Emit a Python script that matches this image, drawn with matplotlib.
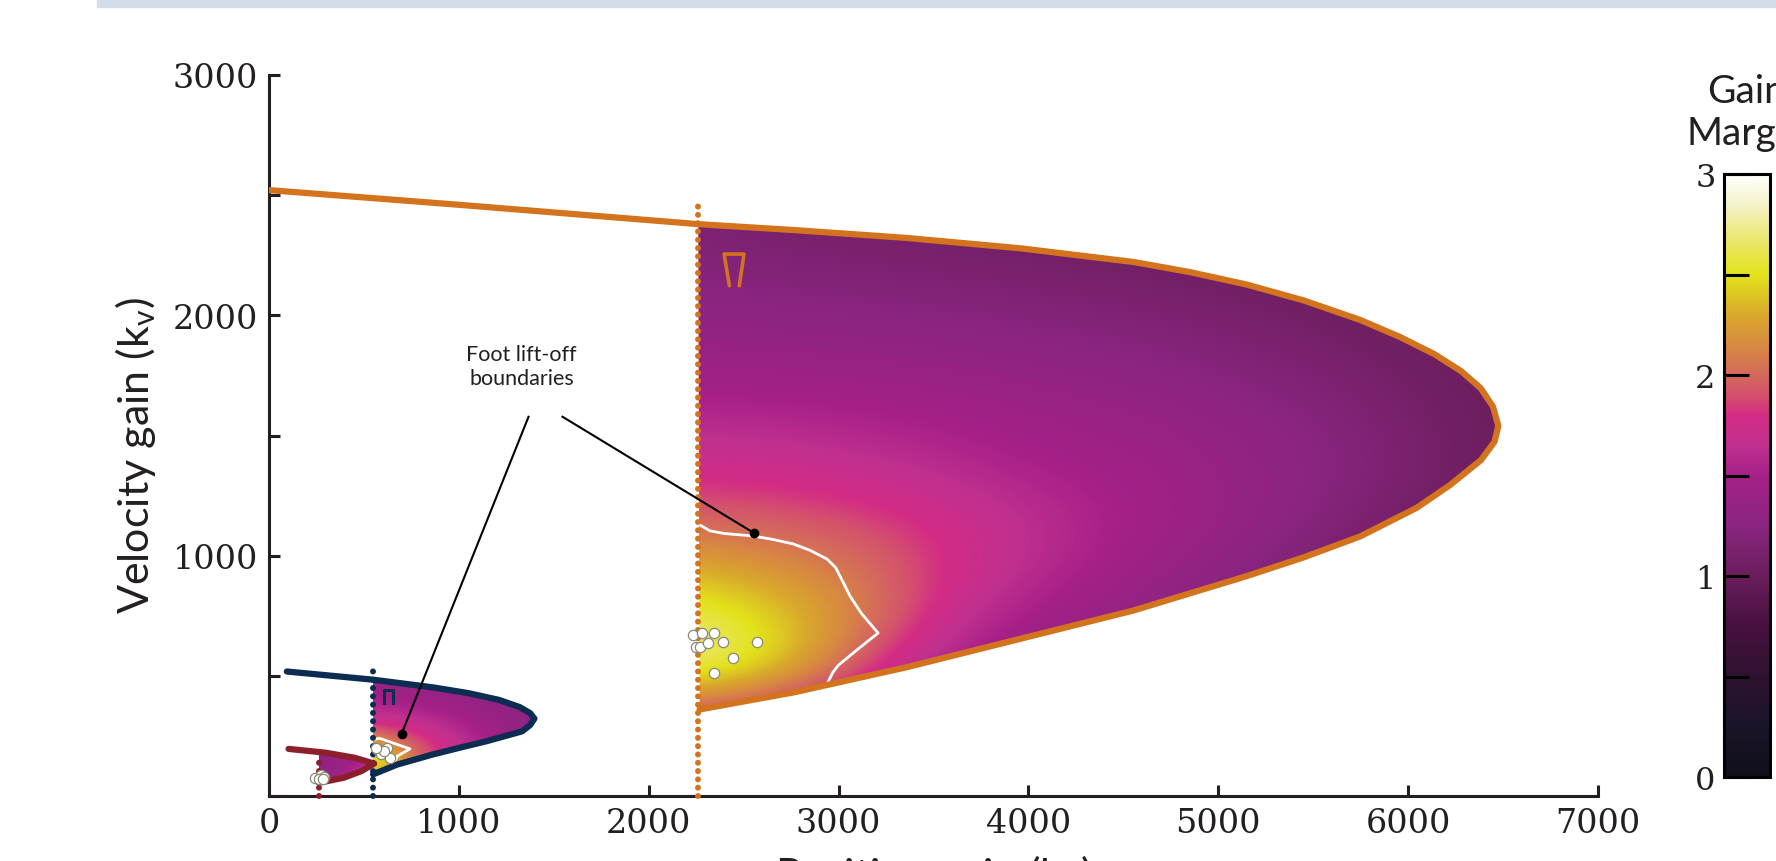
import numpy as np
import matplotlib
matplotlib.use("Agg")
import matplotlib.pyplot as plt
from matplotlib.colors import LinearSegmentedColormap
from matplotlib.patches import Polygon, Rectangle
from matplotlib import font_manager

# ---- data ----
# stability boundaries (position gain kp, velocity gain kv)
orange_upper_x = [0, 1000, 2268, 2763, 3360, 3957, 4554, 4850, 5150, 5450, 5747, 5957,
                  6137, 6279, 6382, 6447, 6475]
orange_upper_y = [2521, 2460, 2379, 2355, 2322, 2279, 2222, 2180, 2128, 2062, 1981, 1910,
                  1839, 1768, 1697, 1620, 1540]
orange_lower_x = [6475, 6455, 6384, 6221, 6045, 5747, 5450, 5150, 4554, 3957, 3360,
                  2763, 2268]
orange_lower_y = [1540, 1474, 1398, 1294, 1199, 1080, 993, 915, 772, 654, 536,
                  431, 360]

blue_upper_x = [94, 548, 864, 1050, 1211, 1320, 1375, 1398]
blue_upper_y = [518, 484, 452, 428, 400, 370, 345, 322]
blue_lower_x = [1398, 1375, 1333, 1146, 1000, 864, 676, 548]
blue_lower_y = [322, 295, 269, 228, 200, 173, 131, 90]

red_upper_x = [103, 300, 451, 554]
red_upper_y = [196, 180, 159, 135]
red_lower_x = [554, 488, 394, 263]
red_lower_y = [135, 104, 76, 55]

# lower kp limits (dotted) : x, top of dotted line
orange_kp_min, orange_dot_top = 2261, 2477
blue_kp_min, blue_dot_top = 548, 522
red_kp_min, red_dot_top = 263, 152

# gain margin samples on regular grids
orange_gx = [2268, 6498]
orange_gy = [340, 2400]
orange_gm = [
    [1.80, 1.60, 1.40, 1.30, 1.20, 1.10, 1.10, 1.05, 1.00, 1.00],
    [2.80, 2.45, 1.80, 1.45, 1.30, 1.20, 1.10, 1.05, 1.00, 1.00],
    [2.65, 2.40, 2.05, 1.65, 1.45, 1.30, 1.15, 1.05, 1.00, 1.00],
    [2.30, 2.15, 2.00, 1.75, 1.58, 1.42, 1.27, 1.12, 1.00, 1.00],
    [1.95, 1.92, 1.85, 1.72, 1.60, 1.48, 1.36, 1.22, 1.06, 1.00],
    [1.75, 1.72, 1.66, 1.58, 1.50, 1.44, 1.35, 1.25, 1.13, 1.00],
    [1.58, 1.56, 1.52, 1.48, 1.42, 1.37, 1.30, 1.22, 1.10, 1.00],
    [1.42, 1.40, 1.38, 1.35, 1.31, 1.27, 1.20, 1.14, 1.05, 1.00],
    [1.30, 1.28, 1.26, 1.24, 1.20, 1.17, 1.12, 1.06, 1.00, 1.00],
    [1.20, 1.18, 1.15, 1.13, 1.10, 1.07, 1.03, 1.00, 1.00, 1.00],
    [1.15, 1.10, 1.08, 1.05, 1.02, 1.00, 0.98, 0.98, 0.98, 0.98],
]
blue_gx = [548, 1398]
blue_gy = [80, 500]
blue_gm = [
    [2.30, 2.00, 1.70, 1.50, 1.35, 1.25],
    [2.70, 2.20, 1.80, 1.60, 1.42, 1.30],
    [2.30, 2.00, 1.80, 1.60, 1.45, 1.32],
    [1.85, 1.75, 1.65, 1.52, 1.40, 1.30],
    [1.60, 1.55, 1.50, 1.42, 1.33, 1.25],
    [1.45, 1.42, 1.38, 1.32, 1.25, 1.20],
    [1.35, 1.32, 1.28, 1.25, 1.20, 1.15],
]
red_gx = [263, 563]
red_gy = [40, 200]
red_gm = [
    [1.40, 1.50, 1.65, 1.80],
    [1.35, 1.45, 1.60, 1.80],
    [1.30, 1.40, 1.55, 1.70],
    [1.25, 1.35, 1.45, 1.60],
    [1.20, 1.30, 1.40, 1.50],
]

# foot lift-off boundaries (white)
liftoff_orange_x = [2260, 2323, 2400, 2549, 2650, 2760, 2850, 2939, 2985, 3030, 3060,
                    3120, 3208, 3100, 3000, 2971, 2944]
liftoff_orange_y = [1132, 1103, 1092, 1082, 1068, 1049, 1022, 986, 950, 880, 832,
                    760, 678, 610, 545, 516, 474]
liftoff_blue_x = [548, 582, 742, 676, 648]
liftoff_blue_y = [235, 240, 196, 166, 117]

# experimental points
pts_orange_x = [2231, 2282, 2345, 2249, 2270, 2312, 2393, 2570, 2442, 2345]
pts_orange_y = [670, 678, 678, 620, 619, 637, 642, 642, 574, 513]
pts_blue_x = [573, 620, 592, 635, 605, 563]
pts_blue_y = [193, 200, 173, 159, 186, 200]
pts_red_x = [244, 272, 291, 263, 282]
pts_red_y = [76, 86, 80, 69, 69]

# stance glyphs
glyph_orange_x = [2425, 2397, 2502, 2477]
glyph_orange_y = [2123, 2255, 2255, 2123]
glyph_blue_x = [608, 608, 652, 652]
glyph_blue_y = [385, 440, 440, 385]

# annotation
note_text = "Foot lift-off\nboundaries"
note_xy = (1331, 1790)
note_start = [(1546, 1578), (1367, 1578)]
note_end = [(2555, 1094), (699, 260)]

ORANGE = "#d4731e"
BLUE = "#0c2c52"
RED = "#8c1f2b"
INK = "#231f20"

gm_colors = [(0.0, "#0f0f1a"), (0.25, "#1a1428"), (0.5, "#2e1230"), (0.75, "#48103f"),
             (1.0, "#6a1e5c"), (1.25, "#8a2580"), (1.5, "#a52088"), (1.65, "#c0308f"),
             (1.8, "#d32c85"), (1.9, "#d4506e"), (2.0, "#d4685c"), (2.15, "#d88a40"),
             (2.3, "#d9a82c"), (2.5, "#e2e21a"), (2.7, "#ece87a"), (2.85, "#f4f2c8"),
             (3.0, "#ffffff")]
cmap = LinearSegmentedColormap.from_list("gm", [(v / 3.0, c) for v, c in gm_colors])

names = {f.name for f in font_manager.fontManager.ttflist}
if "Lato" in names:
    label_font, label_size, note_size, cb_size = "Lato", 31, 15.5, 28
else:
    label_font, label_size, note_size, cb_size = "DejaVu Sans", 27, 14.5, 26
num_font = "DejaVu Serif"

fig = plt.figure(figsize=(17.76, 8.62), dpi=100)
fig.patches.append(Rectangle((97 / 1776, 1 - 8 / 862), 1, 8 / 862, transform=fig.transFigure,
                             color="#d3dce9", zorder=0))
ax = fig.add_axes([269 / 1776, 1 - 797 / 862, 1329 / 1776, 721 / 862])
ax.set_xlim(0, 7000)
ax.set_ylim(0, 3000)


def heat(gx, gy, gm, kp_min, ux, uy, lx, ly):
    z = np.array(gm)
    dx = (gx[1] - gx[0]) / (z.shape[1] - 1)
    dy = (gy[1] - gy[0]) / (z.shape[0] - 1)
    im = ax.imshow(z, origin="lower", cmap=cmap, vmin=0, vmax=3, aspect="auto",
                   interpolation="bicubic",
                   extent=[gx[0] - dx / 2, gx[1] + dx / 2, gy[0] - dy / 2, gy[1] + dy / 2],
                   zorder=1)
    pts = [(x, y) for x, y in zip(ux, uy) if x >= kp_min]
    top_y = np.interp(kp_min, ux, uy)
    pts = [(kp_min, top_y)] + pts + list(zip(lx, ly))
    clip = Polygon(pts, closed=True, transform=ax.transData, facecolor="none", edgecolor="none")
    ax.add_patch(clip)
    im.set_clip_path(clip)
    return im


heat(red_gx, red_gy, red_gm, red_kp_min, red_upper_x, red_upper_y, red_lower_x, red_lower_y)
heat(blue_gx, blue_gy, blue_gm, blue_kp_min, blue_upper_x, blue_upper_y, blue_lower_x, blue_lower_y)
heat(orange_gx, orange_gy, orange_gm, orange_kp_min, orange_upper_x, orange_upper_y,
     orange_lower_x, orange_lower_y)

ax.plot(liftoff_orange_x, liftoff_orange_y, color="white", lw=2.0, zorder=2,
        solid_joinstyle="round")
ax.plot(liftoff_blue_x, liftoff_blue_y, color="white", lw=2.0, zorder=2,
        solid_joinstyle="round")

# dotted lower limits
for kp, top, c in [(red_kp_min, red_dot_top, RED), (blue_kp_min, blue_dot_top, BLUE),
                   (orange_kp_min, orange_dot_top, ORANGE)]:
    ax.plot([kp, kp], [0, top], color=c, lw=4.3, linestyle=(0, (0.01, 1.38)),
            dash_capstyle="round", zorder=3, clip_on=False)

# boundaries
ax.plot(red_upper_x + red_lower_x, red_upper_y + red_lower_y, color=RED, lw=4.5,
        solid_capstyle="round", solid_joinstyle="round", zorder=4)
ax.plot(blue_upper_x + blue_lower_x, blue_upper_y + blue_lower_y, color=BLUE, lw=4.5,
        solid_capstyle="round", solid_joinstyle="round", zorder=4)
ax.plot(orange_upper_x + orange_lower_x, orange_upper_y + orange_lower_y, color=ORANGE, lw=4.5,
        solid_capstyle="round", solid_joinstyle="round", zorder=4)

ax.plot(glyph_orange_x, glyph_orange_y, color=ORANGE, lw=2.6, solid_capstyle="round", zorder=4)
ax.plot(glyph_blue_x, glyph_blue_y, color=BLUE, lw=2.2, zorder=4)

for px, py in [(pts_red_x, pts_red_y), (pts_blue_x, pts_blue_y), (pts_orange_x, pts_orange_y)]:
    ax.scatter(px, py, s=55, facecolor="white", edgecolor="#8a8a78", linewidth=0.9, zorder=5)

# annotation
ax.text(note_xy[0], note_xy[1], note_text, ha="center", va="center", fontsize=note_size,
        family=label_font, color=INK, linespacing=1.25, zorder=6)
for (x0, y0), (x1, y1) in zip(note_start, note_end):
    ax.plot([x0, x1], [y0, y1], color="black", lw=1.5, zorder=6)
    ax.plot(x1, y1, "o", color="black", ms=6, zorder=6)

# axes styling
for s in ["top", "right"]:
    ax.spines[s].set_visible(False)
for s in ["left", "bottom"]:
    ax.spines[s].set_linewidth(2.2)
    ax.spines[s].set_color(INK)
ax.set_xticks(np.arange(0, 7001, 1000))
ax.set_yticks(np.arange(0, 3001, 500))
ax.set_yticklabels(["", "", "1000", "", "2000", "", "3000"])
ax.tick_params(direction="in", length=8, width=2.2, color=INK, labelcolor=INK,
               labelsize=24, pad=8)
for lab in ax.get_xticklabels() + ax.get_yticklabels():
    lab.set_family(num_font)

fig.text(135 / 1776, 1 - 456 / 862, r"Velocity gain (k$_\mathregular{v}$)", rotation=90,
         ha="center", va="center", fontsize=label_size, family=label_font, color=INK)
fig.text(933 / 1776, 1 - 853 / 862, r"Position gain (k$_\mathregular{p}$)",
         ha="center", va="top", fontsize=label_size, family=label_font, color=INK)

# colorbar
cax = fig.add_axes([1724 / 1776, 1 - 778 / 862, 46 / 1776, 603 / 862])
sm = plt.cm.ScalarMappable(cmap=cmap, norm=plt.Normalize(0, 3))
cb = fig.colorbar(sm, cax=cax)
cb.outline.set_linewidth(2.2)
cb.outline.set_edgecolor("black")
cax.yaxis.set_ticks_position("left")
cax.set_yticks([0, 0.5, 1, 1.5, 2, 2.5, 3])
cax.set_yticklabels(["0", "", "1", "", "2", "", "3"])
cax.tick_params(direction="in", length=18, width=2.2, color="black", labelcolor=INK,
                labelsize=23, pad=6)
for lab in cax.get_yticklabels():
    lab.set_family(num_font)
fig.text(1747 / 1776, 1 - 113 / 862, "Gain\nMargin", ha="center", va="center",
         fontsize=cb_size, family=label_font, color=INK, linespacing=1.2)

fig.savefig("out.png", dpi=100)
